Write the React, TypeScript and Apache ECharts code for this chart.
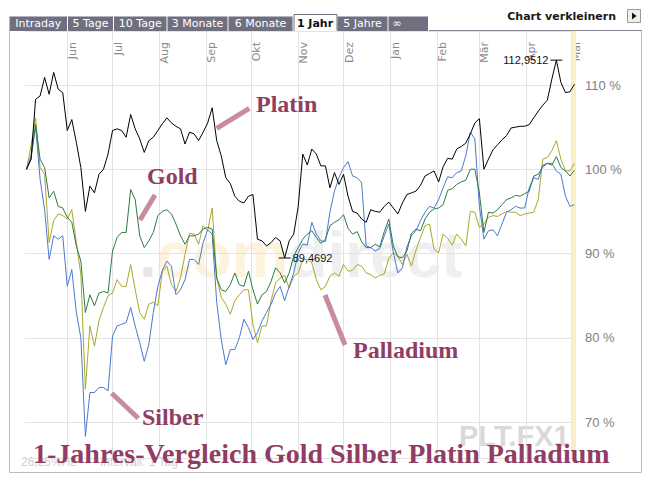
import React, { useEffect, useRef } from 'react';
import * as echarts from 'echarts';

// ---------- data ----------
const MONTH_NAMES = ['Jan', 'Feb', 'Mär', 'Apr', 'Mai', 'Jun', 'Jul', 'Aug', 'Sep', 'Okt', 'Nov', 'Dez'];
const FIRST_DATE_UTC = Date.UTC(2006, 4, 4);
const DAY_COUNT = 366;
const categories: string[] = Array.from({ length: DAY_COUNT }, (_, i) =>
  new Date(FIRST_DATE_UTC + i * 86400000).toISOString().slice(0, 10)
);
// values are sampled every 3 calendar days starting at category index 1
const SAMPLE_OFFSET = 1;
const SAMPLE_STEP = 3;

const platin = [
  100.0, 101.2, 108.3, 108.7, 110.9, 108.9, 111.5, 109.5, 109.1, 104.6,
  105.9, 103.2, 100.2, 95.0, 98.0, 97.2, 99.4, 100.0, 101.8, 104.6,
  104.8, 104.6, 103.8, 106.5, 104.8, 103.6, 102.0, 103.4, 103.8, 104.6,
  105.4, 106.1, 105.5, 105.1, 104.8, 103.0, 104.4, 104.2, 103.4, 104.4,
  105.5, 107.3, 103.4, 101.6, 99.0, 98.3, 96.8, 96.2, 96.0, 96.8,
  97.0, 91.7, 91.5, 90.9, 91.3, 91.9, 91.5, 89.4692, 91.5, 92.3,
  95.6, 101.8, 100.5, 102.4, 101.8, 100.4, 100.4, 97.8, 99.6, 98.2,
  99.4, 96.8, 95.0, 94.8, 94.1, 93.7, 95.2, 95.0, 94.9, 95.6,
  96.1, 95.4, 94.7, 96.0, 97.0, 97.2, 97.4, 98.1, 99.2, 99.5,
  99.8, 98.5, 100.3, 101.3, 101.2, 102.4, 102.7, 103.1, 104.2, 105.5,
  106.0, 100.0, 101.2, 102.3, 102.9, 103.5, 104.0, 104.9, 105.0, 105.1,
  105.1, 105.3, 106.1, 106.9, 107.6, 108.2, 110.7, 112.9512, 110.3, 109.1,
  109.2, 110.1,
];

const gold = [
  100.0, 101.2, 105.3, 101.2, 100.2, 96.6, 97.4, 95.6, 95.4, 94.3,
  93.7, 90.9, 89.1, 83.0, 85.1, 83.8, 85.3, 85.5, 85.3, 90.3,
  91.9, 92.5, 92.5, 97.6, 96.4, 92.1, 90.7, 91.5, 92.5, 94.5,
  95.0, 95.2, 94.7, 93.5, 92.1, 91.1, 92.1, 92.1, 92.3, 92.9,
  93.1, 92.9, 87.1, 85.7, 85.5, 86.3, 87.7, 86.3, 86.1, 87.9,
  85.7, 84.0, 85.1, 85.5, 86.7, 88.3, 87.7, 86.5, 87.7, 89.7,
  90.7, 91.7, 92.3, 92.7, 91.9, 91.2, 91.7, 93.3, 93.7, 94.0,
  94.6, 93.0, 92.3, 92.6, 91.4, 90.7, 90.7, 91.1, 90.8, 92.6,
  94.1, 90.9, 89.6, 89.5, 90.3, 92.4, 92.9, 92.7, 94.1, 94.9,
  95.3, 95.4, 95.8, 97.5, 97.7, 98.2, 98.5, 98.7, 100.0, 100.0,
  97.2, 92.5, 94.9, 94.8, 95.2, 95.8, 96.4, 96.6, 96.9, 96.8,
  97.1, 97.4, 99.2, 99.4, 100.3, 100.7, 100.5, 101.5, 100.2, 99.8,
  99.2, 99.9,
];

const silber = [
  100.0, 101.6, 105.1, 98.8, 95.2, 89.3, 92.1, 91.7, 92.1, 86.1,
  88.1, 83.0, 80.0, 68.3, 73.5, 73.5, 74.1, 74.1, 73.7, 80.2,
  81.4, 81.6, 81.8, 83.6, 81.4, 79.4, 77.2, 79.2, 83.0, 86.1,
  88.0, 89.1, 88.5, 85.1, 85.7, 86.9, 89.3, 89.3, 88.7, 91.3,
  92.8, 92.3, 84.2, 79.8, 76.8, 78.6, 78.6, 80.0, 82.2, 81.2,
  79.8, 80.6, 82.0, 83.0, 84.0, 85.3, 86.1, 84.4, 86.1, 87.7,
  90.1, 91.1, 91.0, 93.7, 92.3, 91.5, 91.4, 94.9, 97.4, 99.0,
  100.2, 100.9, 99.2, 99.0, 98.4, 90.9, 90.7, 90.3, 90.6, 92.1,
  93.5, 90.1, 87.7, 88.3, 90.8, 92.1, 92.7, 93.9, 94.9, 95.6,
  95.4, 96.4, 97.8, 99.1, 99.0, 99.6, 99.8, 101.6, 104.4, 103.6,
  95.6, 91.7, 92.7, 92.8, 92.1, 93.5, 94.9, 95.2, 95.6, 95.4,
  95.4, 97.8, 99.0, 98.8, 100.5, 100.7, 100.7, 99.8, 99.4, 96.8,
  95.6, 95.8,
];

const palladium = [
  100.0, 102.8, 106.1, 100.2, 99.4, 91.3, 93.9, 94.7, 94.5, 94.1,
  95.2, 91.3, 87.5, 73.9, 81.4, 79.0, 82.0, 83.6, 85.0, 85.3,
  86.9, 86.1, 86.1, 88.7, 85.7, 83.0, 82.2, 84.0, 84.2, 83.8,
  87.9, 88.5, 86.3, 85.5, 87.1, 89.9, 92.4, 92.3, 91.1, 93.3,
  92.7, 95.4, 87.1, 84.8, 84.0, 82.8, 84.4, 85.1, 85.7, 85.7,
  81.6, 79.4, 81.4, 81.4, 84.4, 86.5, 87.1, 87.4, 85.9, 87.3,
  87.7, 89.3, 89.3, 88.9, 86.9, 85.7, 86.1, 87.3, 87.7, 87.3,
  88.7, 87.9, 88.0, 88.7, 88.5, 87.7, 87.5, 87.1, 87.4, 87.6,
  89.4, 90.1, 89.7, 88.7, 89.9, 88.5, 90.4, 91.9, 93.3, 93.5,
  90.5, 90.1, 92.3, 91.8, 91.0, 92.3, 91.7, 90.9, 95.0, 94.9,
  93.1, 93.5, 94.3, 94.5, 94.4, 94.7, 95.0, 94.9, 94.9, 94.5,
  94.7, 94.8, 94.9, 96.4, 101.2, 101.4, 102.2, 103.4, 101.2, 99.8,
  99.8, 100.7,
];

const HIGHLIGHT_RANGE = ['2007-05-01', '2007-05-04'];
const Y_MIN = 65.73;
const Y_MAX = 116.41;

const TITLE = '1-Jahres-Vergleich Gold Silber Platin Palladium';
const TAB_LABELS = ['Intraday', '5 Tage', '10 Tage', '3 Monate', '6 Monate', '1 Jahr', '5 Jahre', '∞'];
const ACTIVE_TAB = 5;
const INFO_LEFT = '26,25%HL';
const INFO_RIGHT = 'Intervall: 1 Tag';

// ---------- layout / style ----------
const GRID_TOP = 31;
const GRID_BOTTOM_Y = 458;
const MONTH_LABEL_Y = 42;
const TAB_EDGES = [9.5, 68, 114, 167.5, 228.5, 293.5, 337.5, 388.5, 429];
const TAB_COLOR = '#6f6f80';
const NOTE_TEXT = '#913d63';
const NOTE_LINE = '#c78ba4';
const SERIF = '"Liberation Serif", "Times New Roman", serif';
const SANS = '"Liberation Sans", Arial, sans-serif';
const VERDANA = '"DejaVu Sans", Verdana, sans-serif';

const toData = (vals: number[]) => vals.map((v, i) => [SAMPLE_OFFSET + i * SAMPLE_STEP, v]);
const isMonthStart = (_i: number, v: string) => v.slice(8, 10) === '01';

function buildGraphics() {
  const els: any[] = [];
  // frame
  const frame = { stroke: '#bdbdbd', lineWidth: 1 };
  els.push({ type: 'line', shape: { x1: 9.5, y1: 31, x2: 9.5, y2: 472.5 }, style: frame, silent: true });
  els.push({ type: 'line', shape: { x1: 9.5, y1: 472.5, x2: 641.5, y2: 472.5 }, style: frame, silent: true });
  els.push({ type: 'line', shape: { x1: 641.5, y1: 31, x2: 641.5, y2: 472.5 }, style: frame, silent: true });
  els.push({ type: 'line', shape: { x1: 429, y1: 30.5, x2: 642, y2: 30.5 }, style: { stroke: '#858595', lineWidth: 1 }, silent: true });
  // tabs
  TAB_LABELS.forEach((label, i) => {
    const x0 = TAB_EDGES[i];
    const w = TAB_EDGES[i + 1] - x0 - 1;
    const active = i === ACTIVE_TAB;
    const last = i === TAB_LABELS.length - 1;
    els.push({
      type: 'rect',
      shape: active ? { x: x0 + 0.5, y: 14.5, width: w, height: 17 } : { x: x0, y: 16.5, width: w, height: 14.5 },
      style: active ? { fill: '#ffffff', stroke: TAB_COLOR, lineWidth: 1 } : { fill: TAB_COLOR },
      silent: true,
    });
    if (active) {
      els.push({ type: 'line', shape: { x1: x0 + 1, y1: 31, x2: x0 + w, y2: 31 }, style: { stroke: '#fff', lineWidth: 1.5 }, silent: true });
    }
    els.push({
      type: 'text',
      x: last ? x0 + 4 : x0 + w / 2,
      y: 23.5,
      style: {
        text: label,
        fill: active ? '#111' : '#ffffff',
        fontSize: 11,
        fontWeight: active ? 'bold' : 'normal',
        fontFamily: VERDANA,
        align: last ? 'left' : 'center',
        verticalAlign: 'middle',
      },
      silent: true,
    });
  });
  // Chart verkleinern + button
  els.push({
    type: 'text', x: 616, y: 16,
    style: { text: 'Chart verkleinern', fill: '#1a1a1a', fontSize: 11, fontWeight: 'bold', fontFamily: VERDANA, align: 'right', verticalAlign: 'middle' },
    silent: true,
  });
  els.push({ type: 'rect', shape: { x: 627.5, y: 9.5, width: 13, height: 13 }, style: { fill: '#eeeeee', stroke: '#9a9a9a', lineWidth: 1 }, silent: true });
  els.push({ type: 'polygon', shape: { points: [[632, 12.5], [632, 19.5], [636.5, 16]] }, style: { fill: '#111' }, silent: true });

  // watermarks
  els.push({
    type: 'text', x: 139, y: 255, z: 0,
    style: {
      text: '{a|.}{b|com}{c|direct}',
      verticalAlign: 'middle',
      rich: {
        a: { fill: '#e6e6e6', fontSize: 64, fontWeight: 'bold', fontFamily: SANS },
        b: { fill: '#fdf3dc', fontSize: 64, fontWeight: 'bold', fontFamily: SANS },
        c: { fill: '#efefef', fontSize: 64, fontWeight: 'bold', fontFamily: SANS },
      },
    },
    silent: true,
  });
  els.push({
    type: 'text', x: 459, y: 436,
    style: { text: 'PLT.FX1', fill: '#d9d9d9', fontSize: 29, fontWeight: 'bold', fontFamily: SANS, verticalAlign: 'middle' },
    silent: true,
  });
  // info texts
  els.push({
    type: 'text', x: 21, y: 461.5,
    style: { text: INFO_LEFT, fill: '#d0d0d0', fontSize: 12, fontFamily: SANS, verticalAlign: 'middle' },
    silent: true,
  });
  els.push({
    type: 'text', x: 100, y: 461.5,
    style: { text: INFO_RIGHT, fill: '#d0d0d0', fontSize: 12, fontFamily: SANS, verticalAlign: 'middle' },
    silent: true,
  });

  // annotations
  const notes = [
    { text: 'Platin', x: 256, y: 103.5, line: [216.7, 128.3, 249.3, 108.3] },
    { text: 'Gold', x: 147, y: 176, line: [140, 220, 155, 195] },
    { text: 'Palladium', x: 353, y: 349.5, line: [325, 295, 345, 345] },
    { text: 'Silber', x: 142, y: 417, line: [111.7, 393.3, 138.3, 418.3] },
  ];
  notes.forEach((n) => {
    els.push({
      type: 'line',
      shape: { x1: n.line[0], y1: n.line[1], x2: n.line[2], y2: n.line[3] },
      style: { stroke: NOTE_LINE, lineWidth: 5 },
      z: 10,
      silent: true,
    });
    els.push({
      type: 'text', x: n.x, y: n.y, z: 10,
      style: { text: n.text, fill: NOTE_TEXT, fontSize: 24, fontWeight: 'bold', fontFamily: SERIF, verticalAlign: 'middle' },
      silent: true,
    });
  });
  // title
  els.push({
    type: 'text', x: 33, y: 453.5, z: 10,
    style: { text: TITLE, fill: NOTE_TEXT, fontSize: 28, fontWeight: 'bold', fontFamily: SERIF, verticalAlign: 'middle' },
    silent: true,
  });
  return els;
}

export default function App() {
  const ref = useRef<HTMLDivElement>(null);

  useEffect(() => {
    if (!ref.current) return;
    const chart = echarts.init(ref.current, null, { renderer: 'svg' });
    const lineBase = { type: 'line', symbol: 'none', silent: true, animation: false };
    chart.setOption({
      animation: false,
      backgroundColor: '#ffffff',
      textStyle: { fontFamily: SANS },
      grid: { left: 25, right: 76, top: GRID_TOP, bottom: 486 - GRID_BOTTOM_Y, containLabel: false },
      xAxis: {
        type: 'category',
        data: categories,
        position: 'bottom',
        // move the (bottom) axis up so its rotated month labels hang from y = MONTH_LABEL_Y
        offset: -(GRID_BOTTOM_Y - MONTH_LABEL_Y),
        boundaryGap: false,
        axisLine: { show: false },
        axisTick: { show: false },
        axisLabel: {
          rotate: 90,
          margin: 0,
          interval: isMonthStart,
          formatter: (v: string) => MONTH_NAMES[Number(v.slice(5, 7)) - 1],
          color: '#8a8a8a',
          fontSize: 11,
          fontFamily: VERDANA,
          verticalAlign: 'top',
        },
        splitLine: { show: true, interval: isMonthStart, lineStyle: { color: '#e3e3e3', width: 1 } },
      },
      yAxis: {
        type: 'value',
        position: 'right',
        min: Y_MIN,
        max: Y_MAX,
        splitNumber: 5,
        axisLine: { show: false },
        axisTick: { show: false },
        axisLabel: {
          margin: 9,
          color: '#808080',
          fontSize: 13,
          formatter: (v: number) => (Math.abs(v - Math.round(v / 10) * 10) < 1e-6 ? `${Math.round(v)} %` : ''),
        },
        splitLine: { show: true, lineStyle: { color: '#e3e3e3', width: 1 } },
      },
      graphic: { elements: buildGraphics() },
      series: [
        {
          ...lineBase,
          name: 'Palladium',
          data: toData(palladium),
          lineStyle: { color: '#a9a72b', width: 1 },
          itemStyle: { color: '#a9a72b' },
          z: 3,
          markArea: {
            silent: true,
            itemStyle: { color: '#fbeec4' },
            data: [[{ xAxis: HIGHLIGHT_RANGE[0] }, { xAxis: HIGHLIGHT_RANGE[1] }]],
          },
        },
        {
          ...lineBase,
          name: 'Silber',
          data: toData(silber),
          lineStyle: { color: '#4a79cf', width: 1 },
          itemStyle: { color: '#4a79cf' },
          z: 4,
        },
        {
          ...lineBase,
          name: 'Gold',
          data: toData(gold),
          lineStyle: { color: '#2d7a45', width: 1 },
          itemStyle: { color: '#2d7a45' },
          z: 5,
        },
        {
          ...lineBase,
          name: 'Platin',
          data: toData(platin),
          lineStyle: { color: '#000000', width: 1 },
          itemStyle: { color: '#000000' },
          z: 6,
          markPoint: {
            silent: true,
            symbol: 'rect',
            symbolSize: [12, 1],
            itemStyle: { color: '#000000' },
            label: {
              show: true,
              color: '#111111',
              fontSize: 11,
              formatter: (p: any) => Number(p.value).toFixed(4).replace('.', ','),
            },
            data: [
              { type: 'max', label: { position: 'left', distance: 2 } },
              { type: 'min', label: { position: 'right', distance: 2 } },
            ],
          },
        },
      ],
    });
    return () => chart.dispose();
  }, []);

  return (
    <div
      ref={ref}
      style={{ position: 'fixed', left: 0, top: 0, width: 652, height: 486, background: '#fff' }}
    />
  );
}
